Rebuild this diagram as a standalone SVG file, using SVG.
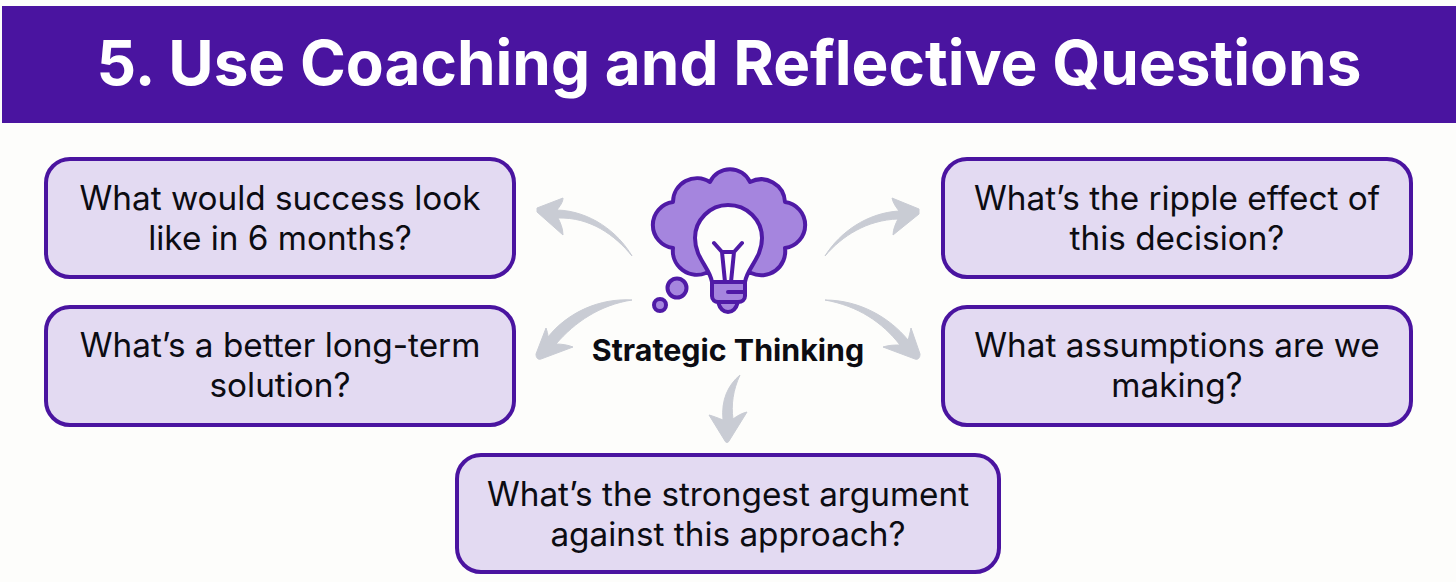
<svg xmlns="http://www.w3.org/2000/svg" width="1456" height="582" viewBox="0 0 1456 582">
<style>
.box{fill:#e3daf2;stroke:#4a14a0;stroke-width:4}
.q{font-family:Inter,"Liberation Sans",sans-serif;font-size:33.300px;fill:#0c0c12;text-anchor:middle}
.arr{fill:#c9ccd4;stroke:#c9ccd4;stroke-width:1;stroke-linejoin:round}
.ic{stroke:#4f1aa6;stroke-width:4;stroke-linejoin:round;stroke-linecap:round}
</style>
<rect width="1456" height="582" fill="#fdfdfb"/>
<g id="banner">
<rect x="2" y="6" width="1454" height="117" fill="#4a14a0"/>
<text x="729" y="85" font-family="Inter,'Liberation Sans',sans-serif" font-weight="700" font-size="62" fill="#fff" text-anchor="middle">5. Use Coaching and Reflective Questions</text>
</g>
<g id="connectors">
<path class="arr" d="M632 256C618 232 590 211 557 210C560 206 563 202 563 198L537 208V212L563 235C563 228 560 222 558 218C590 217 615 235 632 256Z"/>
<path class="arr" d="M825 256C840 232 867 213 899 211C896 207 893 203 892 198L919 209V214L893 235C893 229 896 223 898 219C867 220 842 236 825 256Z"/>
<path class="arr" d="M632 300C600 298 568 312 548 337C548 334 547 331 546 328L536 354C536 358 538 360 541 359L573 347C568 345 562 344 556 344C575 322 600 305 632 300Z"/>
<path class="arr" d="M825 300C860 300 890 318 908 340C909 337 910 333 911 328L920 354C920 358 918 360 915 359L883 347C889 345 895 345 900 345C882 322 858 306 825 300Z"/>
<path class="arr" d="M740 375C728 385 721 400 723 420C718 418 713 416 709 415L725 441C726 443 728 443 729 441L747 412C742 413 737 416 733 419C731 405 733 390 740 375Z"/>
</g>
<g id="q1"><rect class="box" x="46" y="159" width="468" height="118" rx="24"/>
<text class="q" x="280" y="210">What would success look</text><text class="q" x="280" y="250">like in 6 months?</text></g>
<g id="q2"><rect class="box" x="46" y="307" width="468" height="118" rx="24"/>
<text class="q" x="280" y="357">What’s a better long-term</text><text class="q" x="280" y="397">solution?</text></g>
<g id="q3"><rect class="box" x="943" y="159" width="468" height="118" rx="24"/>
<text class="q" x="1177" y="210">What’s the ripple effect of</text><text class="q" x="1177" y="250">this decision?</text></g>
<g id="q4"><rect class="box" x="943" y="307" width="468" height="118" rx="24"/>
<text class="q" x="1177" y="357">What assumptions are we</text><text class="q" x="1177" y="397">making?</text></g>
<g id="q5"><rect class="box" x="457" y="455" width="542" height="117" rx="24"/>
<text class="q" x="728" y="506">What’s the strongest argument</text><text class="q" x="728" y="546">against this approach?</text></g>
<g id="center">
<path class="ic" fill="#a585de" d="M706 273A24 24 0 0 1 673 248A23.200 23.200 0 0 1 673 202A24 24 0 0 1 710 182A22 22 0 0 1 750 182A24 24 0 0 1 785 202A23.200 23.200 0 0 1 785 248A24 24 0 0 1 751 273Z"/>
<path class="ic" fill="#fdfdfb" d="M712 282C710 268 695 258 695 238C695 220 710 205 728 205C747 205 762 220 762 238C762 258 747 268 745 282Z"/>
<path class="ic" fill="none" d="M714 243L722 252L725 282M742 243L734 252L731 282M722 252H734"/>
<path class="ic" fill="#a585de" d="M712 282H745V296C745 300 742 302 738 302C736 309 733 312 728 312C723 312 720 309 718 302C715 302 712 300 712 296Z"/>
<path class="ic" fill="none" d="M728 292H745M718 302H738"/>
<circle class="ic" cx="677" cy="288" r="9.500" fill="#a585de"/>
<circle class="ic" cx="660" cy="305" r="6" fill="#a585de"/>
<text x="728" y="361" font-family="Inter,'Liberation Sans',sans-serif" font-weight="700" font-size="30.400" fill="#0c0c12" text-anchor="middle">Strategic Thinking</text>
</g>
</svg>
